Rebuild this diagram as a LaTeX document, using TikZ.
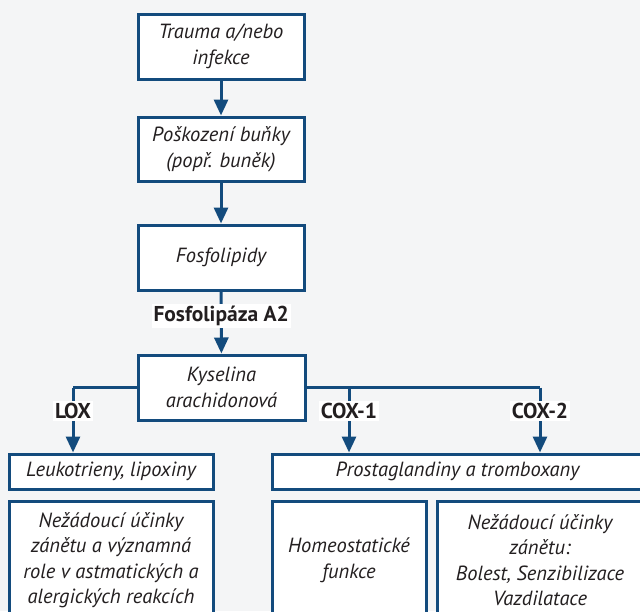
\documentclass[tikz,border=0pt]{standalone}
\usepackage{fontspec}
\setmainfont{PT Sans}
\usepackage{tikz}
\usetikzlibrary{positioning,arrows.meta,calc}

\definecolor{boxblue}{HTML}{134B7D}
\definecolor{inktext}{HTML}{231F20}
\definecolor{paper}{HTML}{F4F5F6}

\begin{document}
\begin{tikzpicture}[x=1pt,y=-1pt,
  every node/.style={font=\fontsize{20.5}{26}\selectfont\itshape, text=inktext},
  blok/.style ={draw=boxblue, line width=3pt, fill=white,
                minimum width=#1, align=center, inner sep=0pt},
  lbl/.style  ={fill=white, inner sep=2pt,
                font=\fontsize{21.5}{24}\selectfont\bfseries\upshape},
  line/.style ={draw=boxblue, line width=3pt},
  arr/.style  ={line, -{Triangle[length=16pt,width=14pt]}}]

\clip (0,0) rectangle (640,611);
\fill[paper] (0,0) rectangle (640,611);

%% main column
\node[blok=166pt, minimum height=65pt] (trauma) at (221,46.5) {Trauma a/nebo\\infekce};
\node[blok=166pt, minimum height=64pt] (poskoz) at (221,149) {Poškození buňky\\(popř. buněk)};
\node[blok=166pt, minimum height=65pt] (fosfo)  at (221,257.5) {Fosfolipidy};
\node[blok=167pt, minimum height=65pt] (kys)    at (221.5,387.5) {Kyselina\\arachidonová};

%% second row
\node[blok=204pt, minimum height=35pt] (leuk)  at (111,471.5) {Leukotrieny, lipoxiny};
\node[blok=371pt, minimum height=35pt] (prost) at (457.5,471.5) {Prostaglandiny a tromboxany};

%% bottom row (runs off the page)
\node[blok=204pt, minimum height=118pt, font=\fontsize{20.5}{25.5}\selectfont\itshape] (alerg) at (111,560)
  {Nežádoucí účinky\\zánětu a významná\\role v astmatických a\\alergických reakcích};
\node[blok=154pt, minimum height=118pt] (homeo) at (349,560) {Homeostatické\\funkce};
\node[blok=206pt, minimum height=118pt, font=\fontsize{20.5}{25.5}\selectfont\itshape] (zanet) at (540,560)
  {Nežádoucí účinky\\zánětu:\\Bolest, Senzibilizace\\Vazdilatace};

%% branch points
\coordinate (lox)  at (73,387.5);
\coordinate (cox1) at (349,387.5);
\coordinate (cox2) at (540,387.5);

%% arrows down the column
\draw[arr] (trauma) -- (poskoz);
\draw[arr] (poskoz) -- (fosfo);
\draw[arr] (fosfo)  -- node[lbl, pos=0.39]{Fosfolipáza A2} (kys);

%% LOX branch on the left
\draw[line] (kys.west) -- (lox);
\draw[arr]  (lox) -- node[lbl, pos=0.36]{LOX} (lox |- leuk.north);

%% COX branches on the right
\draw[line] (kys.east) -- (cox2);
\draw[arr]  (cox1) -- node[lbl, pos=0.36]{COX-1} (cox1 |- prost.north);
\draw[arr]  (cox2) -- node[lbl, pos=0.36]{COX-2} (cox2 |- prost.north);
\end{tikzpicture}
\end{document}
